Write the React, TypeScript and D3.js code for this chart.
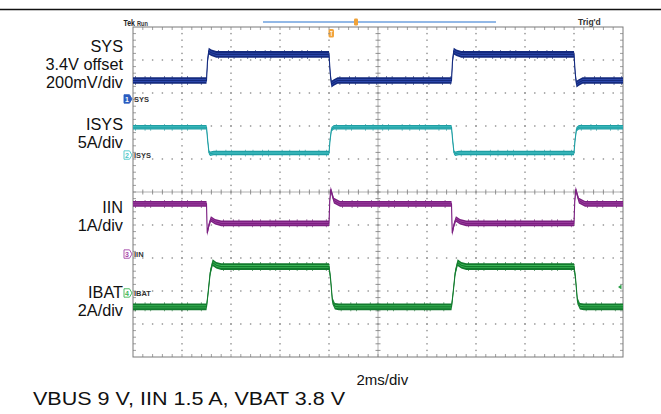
import React from 'react';
import * as d3 from 'd3';

// ---- data (time in ms, value in screen divisions from centre) ----
const timeDomain: [number, number] = [0, 20];
const divDomain: [number, number] = [-5, 5];

const sysTrace: [number, number][] = [
  [0, 3.38], [3.0, 3.38], [3.04, 3.95], [3.09, 4.27], [3.2, 4.22], [3.4, 4.17], [8.0, 4.17],
  [8.05, 3.6], [8.1, 3.27], [8.2, 3.32], [8.35, 3.38],
  [13.0, 3.38], [13.04, 3.95], [13.09, 4.27], [13.2, 4.22], [13.4, 4.17], [18.0, 4.17],
  [18.05, 3.6], [18.1, 3.27], [18.2, 3.32], [18.35, 3.38], [20, 3.38],
];
const isysTrace: [number, number][] = [
  [0, 1.96], [3.0, 1.96], [3.05, 1.55], [3.1, 1.2], [3.15, 1.16], [3.3, 1.18], [8.0, 1.18],
  [8.04, 1.55], [8.1, 1.9], [8.2, 1.96],
  [13.0, 1.96], [13.05, 1.55], [13.1, 1.2], [13.15, 1.16], [13.3, 1.18], [18.0, 1.18],
  [18.04, 1.55], [18.1, 1.9], [18.2, 1.96], [20, 1.96],
];
const iinTrace: [number, number][] = [
  [0, -0.36], [3.0, -0.36], [3.03, -1.25], [3.1, -1.0], [3.18, -0.82], [3.35, -0.9], [3.6, -0.95], [8.0, -0.95],
  [8.03, -0.3], [8.07, 0.08], [8.2, -0.26], [8.45, -0.36],
  [13.0, -0.36], [13.03, -1.25], [13.1, -1.0], [13.18, -0.82], [13.35, -0.9], [13.6, -0.95], [18.0, -0.95],
  [18.03, -0.3], [18.07, 0.08], [18.2, -0.26], [18.45, -0.36], [20, -0.36],
];
const ibatTrace: [number, number][] = [
  [0, -3.48], [3.0, -3.48], [3.06, -3.1], [3.15, -2.45], [3.25, -2.14], [3.4, -2.22], [3.6, -2.26], [8.0, -2.26],
  [8.06, -2.6], [8.14, -3.3], [8.24, -3.46], [8.4, -3.48],
  [13.0, -3.48], [13.06, -3.1], [13.15, -2.45], [13.25, -2.14], [13.4, -2.22], [13.6, -2.26], [18.0, -2.26],
  [18.06, -2.6], [18.14, -3.3], [18.24, -3.46], [18.4, -3.48], [20, -3.48],
];

const channelNames = ['SYS', 'ISYS', 'IIN', 'IBAT'];
const channelNumbers = ['1', '2', '3', '4'];
const markerLevels = [2.82, 1.12, -1.88, -3.06];
const scaleLabels: string[][] = [
  ['SYS', '3.4V offset', '200mV/div'],
  ['ISYS', '5A/div'],
  ['IIN', '1A/div'],
  ['IBAT', '2A/div'],
];
const timebaseLabel = '2ms/div';
const captionText = 'VBUS 9 V, IIN 1.5 A, VBAT 3.8 V';
const headerLeft = ['Tek', 'Run'];
const headerRight = "Trig'd";

// ---- layout / style ----
const X0 = 133, X1 = 623, Y0 = 27, Y1 = 357;
const FONT = '"Liberation Sans", Arial, Helvetica, sans-serif';

const styles = [
  { outer: '#142a7e', inner: '#2b46aa', spike: '#0d1c5c', half: 3.3 },
  { outer: '#1f9ea3', inner: '#4cc8ca', spike: '#178a8f', half: 2.2 },
  { outer: '#7b1f80', inner: '#a446a8', spike: '#5e1263', half: 2.8 },
  { outer: '#137a2e', inner: '#3ab555', spike: '#0d5e22', half: 3.3 },
];
const labelTops = [[51.7, 69.5, 87.5], [130, 147.5], [213, 230.5], [298, 316]];

export default function App() {
  const x = d3.scaleLinear().domain(timeDomain).range([X0, X1]);
  const y = d3.scaleLinear().domain(divDomain).range([Y1, Y0]);
  const traces = [sysTrace, isysTrace, iinTrace, ibatTrace];

  const cx = x(10);
  const cy = y(0);
  const majX = d3.range(0, 11).map((i) => x(i * 2));
  const majY = d3.range(-5, 6).map((j) => y(j));
  const minX = d3.range(1, 50).map((k) => x(k * 0.4));
  const minY = d3.range(1, 50).map((k) => y(-5 + k * 0.2));

  const dots: JSX.Element[] = [];
  majX.forEach((gx, i) => {
    if (i === 0 || i === 10 || i === 5) return;
    minY.forEach((gy, k) => dots.push(<rect key={`v${i}-${k}`} x={gx - 0.7} y={gy - 0.7} width={1.4} height={1.4} fill="#8e8e8e" />));
  });
  majY.forEach((gy, j) => {
    if (j === 0 || j === 10 || j === 5) return;
    minX.forEach((gx, k) => dots.push(<rect key={`h${j}-${k}`} x={gx - 0.7} y={gy - 0.7} width={1.4} height={1.4} fill="#8e8e8e" />));
  });

  const ticks: JSX.Element[] = [];
  minY.forEach((gy, k) => {
    ticks.push(<line key={`cv${k}`} x1={cx - 2.5} x2={cx + 2.5} y1={gy} y2={gy} stroke="#777" strokeWidth={0.8} />);
    ticks.push(<line key={`lv${k}`} x1={X0} x2={X0 + 3} y1={gy} y2={gy} stroke="#888" strokeWidth={0.8} />);
    ticks.push(<line key={`rv${k}`} x1={X1 - 3} x2={X1} y1={gy} y2={gy} stroke="#888" strokeWidth={0.8} />);
  });
  minX.forEach((gx, k) => {
    ticks.push(<line key={`ch${k}`} x1={gx} x2={gx} y1={cy - 2.5} y2={cy + 2.5} stroke="#777" strokeWidth={0.8} />);
    ticks.push(<line key={`th${k}`} x1={gx} x2={gx} y1={Y0} y2={Y0 + 3} stroke="#888" strokeWidth={0.8} />);
    ticks.push(<line key={`bh${k}`} x1={gx} x2={gx} y1={Y1 - 3} y2={Y1} stroke="#888" strokeWidth={0.8} />);
  });

  const line = d3.line<[number, number]>().x((d) => x(d[0])).y((d) => y(d[1]));
  // long flat stretches of each trace (for noise spikes)
  const flatPath = (tr: [number, number][]) =>
    d3.pairs(tr)
      .filter(([a, b]) => b[0] - a[0] > 1)
      .map(([a, b]) => `M${x(a[0]) + 2},${y(a[1])}L${x(b[0]) - 1},${y(b[1])}`)
      .join('');

  return (
    <svg width={661} height={414} style={{ position: 'absolute', left: 0, top: 0, background: '#fff' }}>
      <rect x={0} y={0} width={661} height={414} fill="#fff" />
      {/* header */}
      <line x1={0} x2={661} y1={9.5} y2={9.5} stroke="#111" strokeWidth={1.3} />
      <text x={123.5} y={25.5} fontFamily={FONT} fontSize={8.5} fontWeight="bold" fill="#222" textLength={11.5} lengthAdjust="spacingAndGlyphs">{headerLeft[0]}</text>
      <text x={137} y={25.5} fontFamily={FONT} fontSize={7.5} fontWeight="bold" fill="#333" textLength={11} lengthAdjust="spacingAndGlyphs">{headerLeft[1]}</text>
      <text x={578} y={25} fontFamily={FONT} fontSize={8.5} fontWeight="bold" fill="#333">{headerRight}</text>
      <line x1={263} x2={496} y1={22} y2={22} stroke="#6ea0de" strokeWidth={1.3} />
      <rect x={354} y={18.5} width={4} height={7} rx={1.2} fill="#f0a238" />
      <rect x={328.5} y={29} width={5.5} height={8.5} rx={1.6} fill="#f2a43a" />
      <path d="M330 31.5 h2.5 M331.25 31.5 v4.5" stroke="#fff" strokeWidth={0.8} />

      {/* grid */}
      <g>{dots}</g>
      <line x1={cx} x2={cx} y1={Y0} y2={Y1} stroke="#a8a8a8" strokeWidth={0.9} />
      <line x1={X0} x2={X1} y1={cy} y2={cy} stroke="#a8a8a8" strokeWidth={0.9} />
      <g>{ticks}</g>
      <rect x={X0} y={Y0} width={X1 - X0} height={Y1 - Y0} fill="none" stroke="#7a7a7a" strokeWidth={1} />

      {/* traces */}
      {traces.map((tr, i) => {
        const s = styles[i];
        const outer = d3.area<[number, number]>().x((d) => x(d[0])).y0((d) => y(d[1]) - s.half).y1((d) => y(d[1]) + s.half);
        const inner = d3.area<[number, number]>().x((d) => x(d[0])).y0((d) => y(d[1]) - s.half * 0.45).y1((d) => y(d[1]) + s.half * 0.45);
        return (
          <g key={channelNames[i]}>
            <path d={flatPath(tr)} fill="none" stroke={s.spike} strokeWidth={s.half * 2 + 2.4} strokeDasharray="0.7 9 0.7 5 0.7 13 0.7 7" opacity={0.8} />
            <path d={outer(tr) || ''} fill={s.outer} />
            <path d={inner(tr) || ''} fill={s.inner} />
            <path d={line(tr) || ''} fill="none" stroke={s.outer} strokeWidth={1.1} />
          </g>
        );
      })}

      {/* channel markers */}
      {markerLevels.map((lv, i) => {
        const my = y(lv);
        const s = styles[i];
        const filled = i === 0;
        return (
          <g key={`m${i}`}>
            <path d={`M124 ${my - 4.2} h5.5 l2.5 4.2 l-2.5 4.2 h-5.5 z`} fill={filled ? '#2b5cc0' : '#fff'} stroke={filled ? '#2b5cc0' : s.inner} strokeWidth={0.9} />
            <text x={127} y={my + 2.6} textAnchor="middle" fontFamily={FONT} fontSize={7} fontWeight="bold" fill={filled ? '#fff' : s.inner}>{channelNumbers[i]}</text>
            <text x={134} y={my + 2.7} fontFamily={FONT} fontSize={7.5} fontWeight="bold" fill="#333">{channelNames[i]}</text>
          </g>
        );
      })}
      <path d="M618 287 l3.5 -2.5 v5 z" fill="#2aa048" />

      {/* left scale labels */}
      {scaleLabels.map((grp, i) =>
        grp.map((t, k) => (
          <text key={`l${i}-${k}`} x={123} y={labelTops[i][k]} textAnchor="end" fontFamily={FONT} fontSize={16.3} fill="#111">{t}</text>
        ))
      )}

      {/* bottom texts */}
      <text x={356.5} y={385} fontFamily={FONT} fontSize={15} fill="#111">{timebaseLabel}</text>
      <text x={33} y={405} fontFamily={FONT} fontSize={19} fill="#111" textLength={312} lengthAdjust="spacingAndGlyphs">{captionText}</text>
    </svg>
  );
}
